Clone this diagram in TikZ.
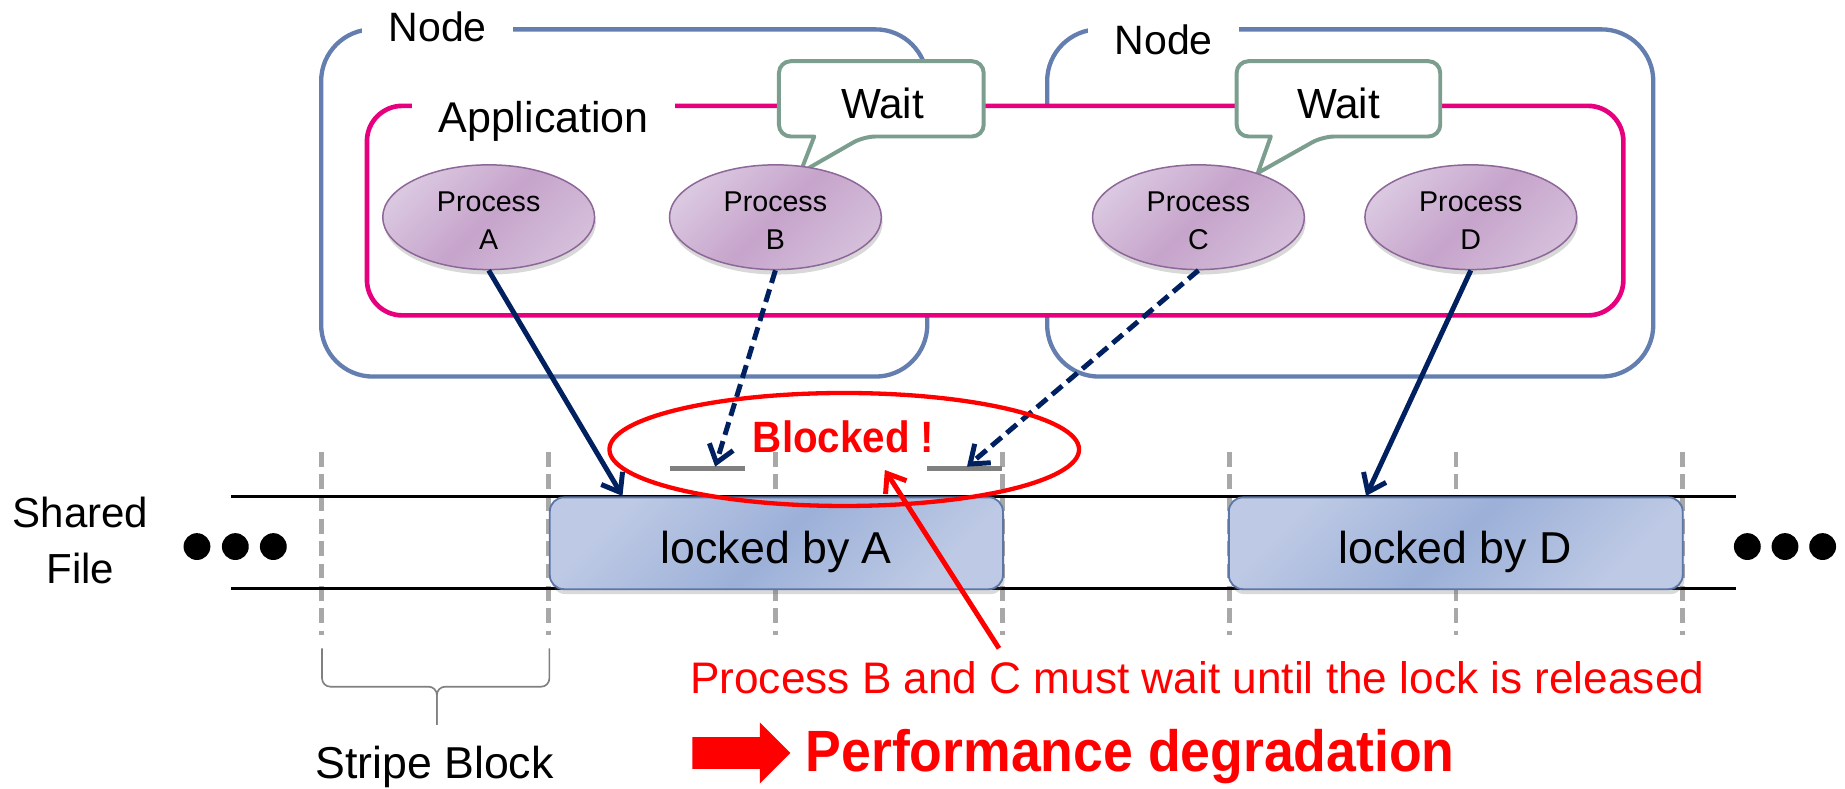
\documentclass[tikz,border=0pt]{standalone}
\usepackage{fontspec}
\setmainfont{Liberation Sans}
\newfontfamily\narrowsans{Liberation Sans}[FakeStretch=0.92]
\usetikzlibrary{arrows.meta,shapes.geometric,shadows}

\definecolor{nodeblue}{RGB}{99,126,175}
\definecolor{appmag}{RGB}{230,0,126}
\definecolor{waitgreen}{RGB}{124,158,142}
\definecolor{navy}{RGB}{0,32,96}
\definecolor{procL}{RGB}{218,199,224}
\definecolor{procL2}{RGB}{212,190,218}
\definecolor{procD}{RGB}{198,164,203}
\definecolor{procline}{RGB}{141,103,152}
\definecolor{lockL}{RGB}{190,202,229}
\definecolor{lockD}{RGB}{156,176,216}
\definecolor{lockline}{RGB}{92,118,168}
\definecolor{stripegrey}{RGB}{168,168,168}
\definecolor{slotgrey}{RGB}{128,128,128}

\tikzset{
  nodebox/.style={draw=nodeblue, line width=2.6pt, rounded corners=1.1cm, inner sep=0pt},
  boxlabel/.style={fill=white, anchor=base, inner xsep=16pt, inner ysep=4pt},
  appbox/.style={draw=appmag, fill=white, line width=2.8pt, rounded corners=0.75cm, inner sep=0pt},
  bubble/.style={draw=waitgreen, fill=white, line width=2.4pt, line join=round},
  bubbletext/.style={anchor=base, inner sep=0pt, font=\fontsize{25.5pt}{30pt}\selectfont},
  proc/.style={ellipse, draw=procline, line width=0.9pt,
    top color=procL, bottom color=procL2, middle color=procD, shading angle=45,
    drop shadow={shadow xshift=0.8pt, shadow yshift=-3pt, opacity=0.25, fill=black!60},
    minimum width=4.5cm, minimum height=2.225cm, inner sep=0pt},
  proctext/.style={anchor=base, inner sep=0pt, font=\fontsize{17.3pt}{21pt}\selectfont},
  stripe/.style={draw=stripegrey, line width=2.8pt, dash pattern=on 9pt off 4.5pt},
  fileline/.style={draw=black, line width=2.2pt},
  lockbox/.style={rounded corners=0.3cm, draw=lockline, line width=1.1pt,
    top color=lockL, bottom color=lockL, middle color=lockD, shading angle=45,
    drop shadow={shadow xshift=1pt, shadow yshift=-3pt, opacity=0.25, fill=black!60},
    inner sep=0pt, minimum height=1.95cm},
  locktext/.style={anchor=base, inner sep=0pt, font=\fontsize{27pt}{32pt}\selectfont},
  slot/.style={draw=slotgrey, line width=3.4pt},
  link/.style={draw=navy, line width=3pt, -{Straight Barb[length=10pt,width=15pt]}},
  waitlink/.style={link, dash pattern=on 8pt off 4pt},
  warn/.style={draw=red, line width=2.6pt},
  brace/.style={draw=slotgrey, line width=1pt, rounded corners=5pt},
  dot/.style={fill=black},
}

\begin{document}
\begin{tikzpicture}[x=0.025cm, y=-0.025cm]
\useasboundingbox (0,0) rectangle (1568,670);

% --- compute nodes
\node[nodebox, minimum width=12.875cm, minimum height=7.375cm] (nodeL) at (530.5,172.5) {};
\node[nodebox, minimum width=12.875cm, minimum height=7.375cm] (nodeR) at (1147.5,172.5) {};
\node[boxlabel, font=\fontsize{24.8pt}{29pt}\selectfont] (nodeLlab) at (372,35.4) {Node};
\node[boxlabel, font=\fontsize{24.8pt}{29pt}\selectfont] (nodeRlab) at (989,46.7) {Node};

% --- application frame
\node[appbox, minimum width=26.6875cm, minimum height=4.45cm] (app) at (845.75,179) {};
\node[boxlabel, font=\fontsize{26pt}{30pt}\selectfont] (applab) at (462,112.5) {Application};

% --- wait callouts
\filldraw[bubble] (662,84) [rounded corners=0.25cm] -- (662,52) -- (836,52) -- (836,116) -- (734,116)
  [sharp corners] -- (680,147) -- (692,116) [rounded corners=0.25cm] -- (662,116) -- cycle;
\node[bubbletext] (waitB) at (750,100.5) {Wait};
\filldraw[bubble] (1051,84) [rounded corners=0.25cm] -- (1051,52) -- (1224,52) -- (1224,116) -- (1124,116)
  [sharp corners] -- (1069,147) -- (1080,116) [rounded corners=0.25cm] -- (1051,116) -- cycle;
\node[bubbletext] (waitC) at (1137.5,100.5) {Wait};

% --- processes
\node[proc] (pA) at (415.3,184.6) {};
\node[proc] (pB) at (659,184.6) {};
\node[proc] (pC) at (1018.5,184.6) {};
\node[proc] (pD) at (1250,184.6) {};
\foreach \n/\x/\l in {tA/415.3/A, tB/659/B, tC/1018.5/C, tD/1250/D}{
  \node[proctext] (\n1) at (\x,180) {Process};
  \node[proctext] (\n2) at (\x,212) {\l};
}

% --- shared file with stripe boundaries
\foreach \x in {273,466,659,852,1045,1237.5,1430}
  \draw[stripe] (\x,384) -- (\x,540);
\draw[fileline] (196.6,422) -- (1475.3,422);
\draw[fileline] (196.6,500) -- (1475.3,500);
\foreach \x in {167.4,200,232.3,1485,1517,1549}
  \fill[dot] (\x,464.5) circle (11.4);
\node[anchor=base, inner sep=0pt, font=\fontsize{25.4pt}{30pt}\selectfont] (shared1) at (68.3,448) {Shared};
\node[anchor=base, inner sep=0pt, font=\fontsize{25.4pt}{30pt}\selectfont] (shared2) at (68.3,496) {File};

% --- locked stripes
\node[lockbox, minimum width=9.625cm] (lockA) at (659.8,461.7) {};
\node[lockbox, minimum width=9.64cm] (lockD) at (1237.2,461.7) {};
\node[locktext] (lockAt) at (659.8,478.7) {locked by A};
\node[locktext] (lockDt) at (1236.5,478.7) {locked by D};

% --- pending lock requests
\draw[slot] (569.5,398.3) -- (633.2,398.3);
\draw[slot] (788,398.3) -- (851.5,398.3);
\coordinate (endA) at (529,421.5);
\coordinate (endB) at (607.8,396.6);
\coordinate (endC) at (821.8,396.6);
\coordinate (endD) at (1161,421.5);
\draw[link] (pA.south) -- (endA);
\draw[waitlink] (pB.south) -- (endB);
\draw[waitlink] (pC.south) -- (endC);
\draw[link] (pD.south) -- (endD);

% --- blocked marker
\node[ellipse, warn, minimum width=9.975cm, minimum height=2.4cm, inner sep=0pt] (blk) at (717.5,382) {};
\node[anchor=base, inner sep=0pt, text=red, font=\narrowsans\bfseries\fontsize{26.5pt}{30pt}\selectfont] (blkt) at (717,384.5) {Blocked !};

% --- explanation
\coordinate (noteTail) at (849,551);
\coordinate (noteHead) at (752,399.4);
\draw[warn, line width=3pt, -{Straight Barb[length=10pt,width=15pt]}] (noteTail) -- (noteHead);
\node[anchor=base, inner sep=0pt, text=red, font=\fontsize{26.7pt}{32pt}\selectfont] (note) at (1017.5,589) {Process B and C must wait until the lock is released};

% --- stripe block brace
\coordinate (brL) at (273.7,551);
\coordinate (brR) at (466.9,551);
\coordinate (brM) at (371.3,583.6);
\coordinate (brTip) at (371.3,616);
\draw[brace] (brL) |- (brM) -- (brTip);
\draw[brace] (brR) |- (brM) -- (brTip);
\node[anchor=base, inner sep=0pt, font=\fontsize{27pt}{32pt}\selectfont] (stripeLab) at (369.3,662) {Stripe Block};

% --- consequence
\fill[red] (588.5,626.5) -- (645.7,626.5) -- (645.7,614) -- (671.7,640) -- (645.7,666) -- (645.7,653.5) -- (588.5,653.5) -- cycle;
\node[anchor=base, inner sep=0pt, text=red, font=\narrowsans\bfseries\fontsize{35.2pt}{40pt}\selectfont] (perf) at (960.5,656) {Performance degradation};
\end{tikzpicture}
\end{document}
